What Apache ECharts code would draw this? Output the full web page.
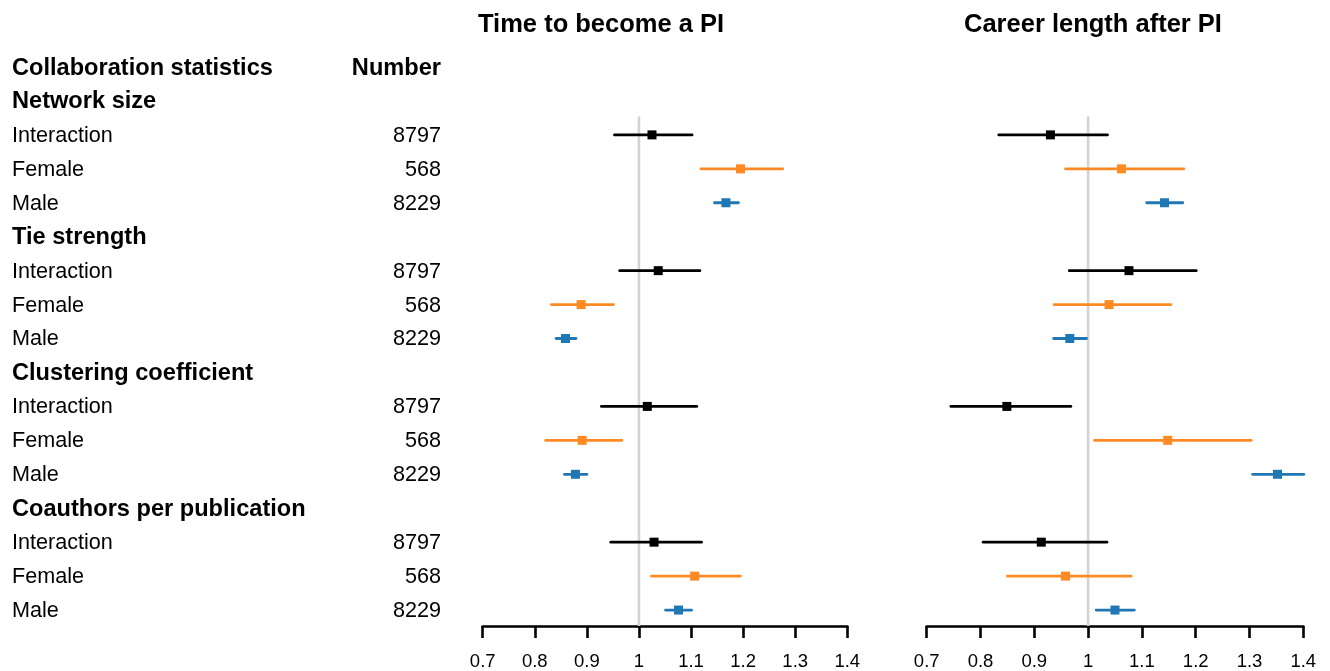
<!DOCTYPE html>
<html>
<head>
<meta charset="utf-8">
<script src="https://cdn.jsdelivr.net/npm/echarts@6/dist/echarts.min.js"></script>
<style>
html,body{margin:0;padding:0;background:#fff;}
#chart{width:1330px;height:671px;}
</style>
</head>
<body>
<div id="chart"></div>
<script>
// ---------- data ----------
var panelTitles = ["Time to become a PI", "Career length after PI"];
var headerLabels = ["Collaboration statistics", "Number"];
var metrics = ["Network size", "Tie strength", "Clustering coefficient", "Coauthors per publication"];
var groups = ["Interaction", "Female", "Male"];
var counts = [8797, 568, 8229];
var xTicks = [0.7, 0.8, 0.9, 1, 1.1, 1.2, 1.3, 1.4];

// Time to become a PI (estimate, lower, upper) per metric
var timeEstInteraction = [1.025, 1.037, 1.016, 1.029];
var timeLoInteraction  = [0.953, 0.963, 0.928, 0.946];
var timeHiInteraction  = [1.102, 1.117, 1.111, 1.120];
var timeEstFemale = [1.195, 0.889, 0.891, 1.107];
var timeLoFemale  = [1.119, 0.832, 0.821, 1.024];
var timeHiFemale  = [1.276, 0.951, 0.967, 1.195];
var timeEstMale = [1.167, 0.859, 0.878, 1.076];
var timeLoMale  = [1.145, 0.841, 0.857, 1.051];
var timeHiMale  = [1.191, 0.879, 0.900, 1.101];

// Career length after PI
var careerEstInteraction = [0.930, 1.076, 0.849, 0.913];
var careerLoInteraction  = [0.834, 0.965, 0.745, 0.805];
var careerHiInteraction  = [1.036, 1.201, 0.968, 1.035];
var careerEstFemale = [1.062, 1.039, 1.148, 0.958];
var careerLoFemale  = [0.958, 0.937, 1.012, 0.850];
var careerHiFemale  = [1.178, 1.154, 1.303, 1.080];
var careerEstMale = [1.142, 0.966, 1.352, 1.050];
var careerLoMale  = [1.109, 0.936, 1.306, 1.015];
var careerHiMale  = [1.176, 0.997, 1.401, 1.086];

// ---------- layout / style ----------
var FONT = "'Liberation Sans', Arial, Helvetica, sans-serif";
var groupColors = ["#000000", "#ff8a24", "#1f77b4"];
var Y_MAX = 16.47;      // row coordinate of the x axis line
var REF_TOP = 1.46;     // row coordinate where reference line starts

// rows: 0 header, then per metric: header row + 3 group rows
function metricRow(m) { return 1 + m * 4; }
function groupRow(m, g) { return metricRow(m) + 1 + g; }

var panels = [
  {est: [timeEstInteraction, timeEstFemale, timeEstMale],
   lo:  [timeLoInteraction, timeLoFemale, timeLoMale],
   hi:  [timeHiInteraction, timeHiFemale, timeHiMale]},
  {est: [careerEstInteraction, careerEstFemale, careerEstMale],
   lo:  [careerLoInteraction, careerLoFemale, careerLoMale],
   hi:  [careerHiInteraction, careerHiFemale, careerHiMale]}
];

var grids = [
  {left: 482.7, width: 364.6, top: 67, bottom: 45},
  {left: 926.7, width: 376.6, top: 67, bottom: 45},
  {left: 12, width: 429, top: 67, bottom: 45}
];

var xAxes = [0, 1].map(function (i) {
  return {
    gridIndex: i, type: 'value', min: 0.7, max: 1.4, interval: 0.1,
    axisLine: {show: true, onZero: false, lineStyle: {color: '#000', width: 2.6}},
    axisTick: {show: true, length: 12, lineStyle: {color: '#000', width: 2.6}},
    axisLabel: {color: '#000', fontSize: 18.5, fontFamily: FONT, margin: 26,
      formatter: function (v) { return String(Math.round(v * 10) / 10); }},
    splitLine: {show: false}
  };
});
xAxes.push({gridIndex: 2, type: 'value', min: 0, max: 1, show: false});

var yAxes = [0, 1, 2].map(function (i) {
  return {gridIndex: i, type: 'value', min: 0, max: Y_MAX, inverse: true, show: false};
});

var series = [];

// reference line at 1
[0, 1].forEach(function (p) {
  series.push({
    type: 'line', xAxisIndex: p, yAxisIndex: p, symbol: 'none', silent: true,
    lineStyle: {color: '#d3d3d3', width: 2.6}, z: 1,
    data: [[1, REF_TOP], [1, Y_MAX]]
  });
});

// error bars with square markers
[0, 1].forEach(function (p) {
  groups.forEach(function (gName, g) {
    var data = metrics.map(function (mName, m) {
      return [groupRow(m, g), panels[p].lo[g][m], panels[p].est[g][m], panels[p].hi[g][m]];
    });
    series.push({
      type: 'custom', name: gName, xAxisIndex: p, yAxisIndex: p, z: 3,
      data: data,
      encode: {x: [1, 2, 3], y: 0},
      renderItem: function (params, api) {
        var row = api.value(0);
        var a = api.coord([api.value(1), row]);
        var e = api.coord([api.value(2), row]);
        var b = api.coord([api.value(3), row]);
        var s = 9;
        return {
          type: 'group',
          children: [
            {type: 'line', shape: {x1: a[0], y1: a[1], x2: b[0], y2: b[1]},
             style: {stroke: groupColors[g], lineWidth: 2.8, lineCap: 'round'}},
            {type: 'rect', shape: {x: e[0] - s / 2, y: e[1] - s / 2, width: s, height: s},
             style: {fill: groupColors[g]}}
          ]
        };
      }
    });
  });
});

// left text table
var textRows = [];
textRows.push({row: 0, x: 0, text: headerLabels[0], bold: true, align: 'left'});
textRows.push({row: 0, x: 1, text: headerLabels[1], bold: true, align: 'right'});
metrics.forEach(function (mName, m) {
  textRows.push({row: metricRow(m), x: 0, text: mName, bold: true, align: 'left'});
  groups.forEach(function (gName, g) {
    textRows.push({row: groupRow(m, g), x: 0, text: gName, bold: false, align: 'left'});
    textRows.push({row: groupRow(m, g), x: 1, text: String(counts[g]), bold: false, align: 'right'});
  });
});
series.push({
  type: 'custom', xAxisIndex: 2, yAxisIndex: 2, silent: true,
  data: textRows.map(function (t) { return [t.x, t.row]; }),
  renderItem: function (params, api) {
    var t = textRows[params.dataIndex];
    var pt = api.coord([api.value(0), api.value(1)]);
    return {
      type: 'text', x: pt[0], y: pt[1] + 1,
      style: {
        text: t.text, fill: '#000', fontFamily: FONT,
        fontSize: t.bold ? 23.6 : 21.6, fontWeight: t.bold ? 'bold' : 'normal',
        align: t.align, verticalAlign: 'middle'
      }
    };
  }
});

var chart = echarts.init(document.getElementById('chart'), null, {renderer: 'canvas'});
chart.setOption({
  animation: false,
  backgroundColor: '#ffffff',
  title: [
    {text: panelTitles[0], left: 478, top: 12, padding: 0,
     textStyle: {fontFamily: FONT, fontSize: 25.5, fontWeight: 'bold', color: '#000'}},
    {text: panelTitles[1], left: 964, top: 12, padding: 0,
     textStyle: {fontFamily: FONT, fontSize: 25.5, fontWeight: 'bold', color: '#000'}}
  ],
  grid: grids,
  xAxis: xAxes,
  yAxis: yAxes,
  series: series
});
</script>
</body>
</html>
